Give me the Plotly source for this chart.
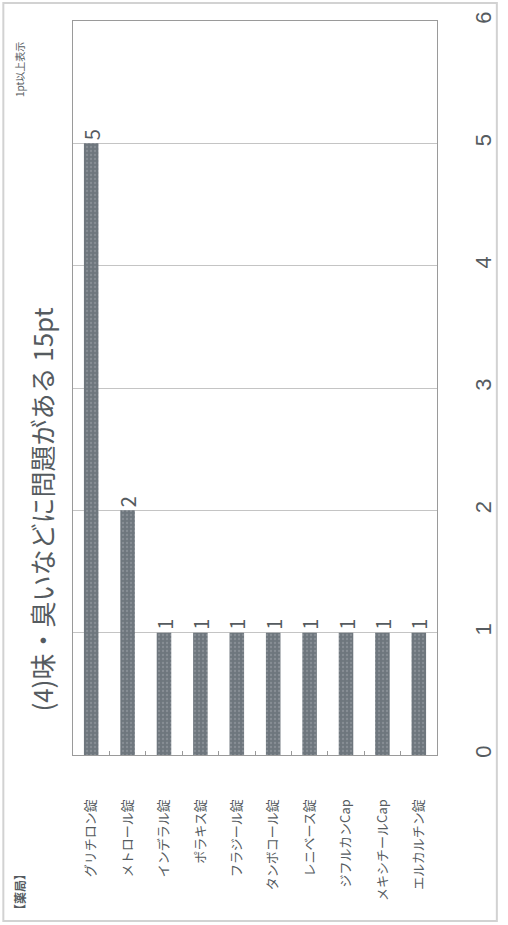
import plotly.graph_objects as go

categories = ["グリチロン錠", "メトロール錠", "インデラル錠", "ポラキス錠", "フラジール錠",
              "タンボコール錠", "レニベース錠", "ジフルカンCap", "メキシチールCap", "エルカルチン錠"]
values = [5, 2, 1, 1, 1, 1, 1, 1, 1, 1]
value_ticks = [0, 1, 2, 3, 4, 5, 6]
title_text = "(4)味・臭いなどに問題がある 15pt"
note_text = "1pt以上表示"
group_text = "【薬局】"

W, H = 508, 925
L, R, T, B = 73, 444, 21, 755

def px(x):
    return (x - L) / (R - L)

def py(y):
    return (B - y) / (B - T)

FONT = "Noto Sans CJK JP"
TXT = "#555b60"

fig = go.Figure(go.Bar(
    x=categories, y=values,
    marker=dict(color="#6e767d", line=dict(width=0),
                pattern=dict(shape=".", fgcolor="#a0a6ab", size=4, solidity=0.25)),
    text=[str(v) for v in values], textposition="outside", textangle=-90,
    textfont=dict(size=20, color=TXT, family=FONT),
    cliponaxis=False,
))

fig.update_layout(
    width=W, height=H,
    margin=dict(l=L, r=W - R, t=T, b=H - B),
    paper_bgcolor="white", plot_bgcolor="white",
    bargap=0.6, showlegend=False,
    font=dict(family=FONT, color=TXT),
    xaxis=dict(tickangle=-90, tickfont=dict(size=13, color=TXT, family=FONT),
               ticks="inside", tickson="boundaries", ticklen=4, tickcolor="#999",
               showline=True, linecolor="#9a9a9a", linewidth=1, mirror=True,
               ticklabelstandoff=38, showgrid=False),
    yaxis=dict(side="right", range=[0, 6], tickvals=value_ticks, tickangle=-90,
               tickfont=dict(size=22, color=TXT, family="Liberation Sans"),
               showgrid=True, gridcolor="#c4c4c4", gridwidth=1,
               showline=True, linecolor="#9a9a9a", linewidth=1, mirror=True,
               ticks="", ticklabelstandoff=27, zeroline=False),
    annotations=[
        dict(text=title_text, x=px(40), y=py(510), xref="paper", yref="paper",
             textangle=-90, showarrow=False, font=dict(size=26, color=TXT, family=FONT),
             xanchor="center", yanchor="middle"),
        dict(text=note_text, x=px(18), y=py(70), xref="paper", yref="paper",
             textangle=-90, showarrow=False, font=dict(size=10, color=TXT, family=FONT),
             xanchor="center", yanchor="middle"),
        dict(text="<b>" + group_text + "</b>", x=px(18), y=py(892), xref="paper", yref="paper",
             textangle=-90, showarrow=False, font=dict(size=12, color=TXT, family=FONT),
             xanchor="center", yanchor="middle"),
    ],
    shapes=[
        dict(type="rect", xref="paper", yref="paper",
             x0=px(2), x1=px(505), y0=py(921), y1=py(3),
             line=dict(color="#d2d2d2", width=2), layer="below"),
    ],
)

fig.write_html("out.html")
